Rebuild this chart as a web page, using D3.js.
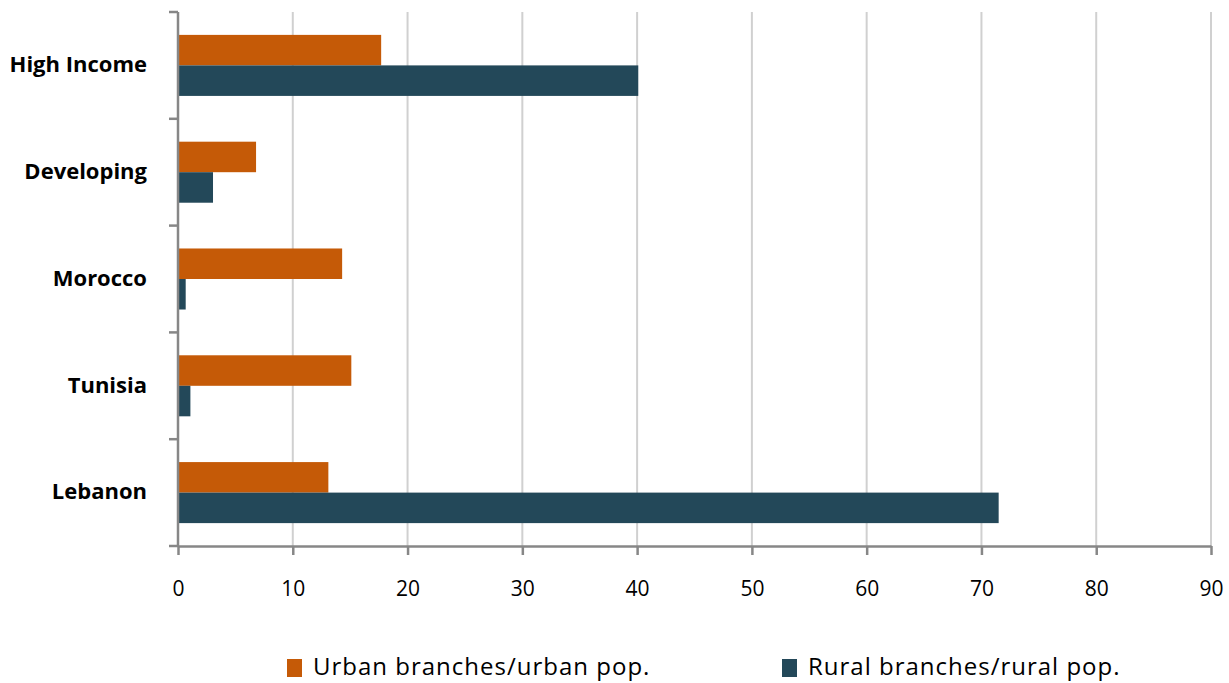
<!DOCTYPE html>
<html>
<head>
<meta charset="utf-8">
<script src="https://cdn.jsdelivr.net/npm/d3@7"></script>
<style>
  html, body { margin: 0; padding: 0; background: #fff; }
  svg { display: block; font-family: "Open Sans", Lato, sans-serif; }
</style>
</head>
<body>
<svg id="chart" width="1229" height="683"></svg>
<script>
// Bank branches per population: urban vs rural
const categories = ["High Income", "Developing", "Morocco", "Tunisia", "Lebanon"];
const seriesNames = ["Urban branches/urban pop.", "Rural branches/rural pop."];
const urbanValues = [17.7, 6.8, 14.3, 15.1, 13.1];
const ruralValues = [40.1, 3.05, 0.67, 1.08, 71.5];
const xTicks = [0, 10, 20, 30, 40, 50, 60, 70, 80, 90];
const colors = ["#C55A07", "#234859"];

const svg = d3.select("#chart");
const plotLeft = 178, plotRight = 1211, plotTop = 12, plotBottom = 546;

const x = d3.scaleLinear().domain([0, 90]).range([plotLeft, plotRight]);
const y = d3.scaleBand().domain(categories).range([plotTop, plotBottom]);
const inner = d3.scaleBand().domain(seriesNames)
  .range([0, y.bandwidth()]).paddingInner(0).paddingOuter(0.75);

// vertical gridlines
svg.append("g").selectAll("line").data(xTicks.slice(1)).join("line")
  .attr("x1", d => x(d)).attr("x2", d => x(d))
  .attr("y1", plotTop).attr("y2", plotBottom)
  .attr("stroke", "#D0D0D0").attr("stroke-width", 2);

// bars
const rows = categories.map((c, i) => ({ cat: c, vals: [urbanValues[i], ruralValues[i]] }));
const groups = svg.append("g").selectAll("g").data(rows).join("g")
  .attr("transform", d => `translate(0,${y(d.cat)})`);
groups.selectAll("rect").data(d => d.vals.map((v, j) => ({ v, s: seriesNames[j], j })))
  .join("rect")
  .attr("x", x(0))
  .attr("y", d => inner(d.s))
  .attr("width", d => x(d.v) - x(0))
  .attr("height", inner.bandwidth())
  .attr("fill", d => colors[d.j]);

// x axis
const xAxis = d3.axisBottom(x).tickValues(xTicks).tickSize(9).tickSizeOuter(0).tickPadding(35);
const gx = svg.append("g").attr("transform", `translate(0,${plotBottom})`).call(xAxis);
gx.select(".domain").attr("stroke", "#878787").attr("stroke-width", 2.5);
gx.selectAll(".tick line").attr("stroke", "#878787").attr("stroke-width", 2.5);
gx.selectAll(".tick text").attr("fill", "#000").attr("dy", null)
  .attr("dominant-baseline", "middle")
  .style("font-size", "21px").style("font-family", "'Open Sans', sans-serif");

// y axis: ticks at category boundaries
const bounds = d3.range(categories.length + 1).map(i => plotTop + i * y.step());
const gy = svg.append("g");
gy.append("line").attr("x1", plotLeft).attr("x2", plotLeft).attr("y1", plotTop).attr("y2", plotBottom + 1)
  .attr("stroke", "#878787").attr("stroke-width", 2.5);
gy.selectAll("line.tk").data(bounds).join("line").attr("class", "tk")
  .attr("x1", plotLeft - 9).attr("x2", plotLeft).attr("y1", d => d).attr("y2", d => d)
  .attr("stroke", "#878787").attr("stroke-width", 2.5);
gy.selectAll("text").data(categories).join("text")
  .attr("x", 147).attr("y", d => y(d) + y.bandwidth() / 2 + 1)
  .attr("text-anchor", "end").attr("dominant-baseline", "middle")
  .style("font-size", "22px").style("font-weight", "bold").attr("fill", "#000")
  .text(d => d);

// legend
const legendX = [287, 782];
const lg = svg.append("g").selectAll("g").data(seriesNames).join("g")
  .attr("transform", (d, i) => `translate(${legendX[i]},659)`);
lg.append("rect").attr("width", 15).attr("height", 18).attr("fill", (d, i) => colors[i]);
lg.append("text").attr("x", 26).attr("y", 10).attr("dominant-baseline", "middle")
  .style("font-size", "24px").style("letter-spacing", "1px")
  .attr("fill", "#000").text(d => d);
</script>
</body>
</html>
